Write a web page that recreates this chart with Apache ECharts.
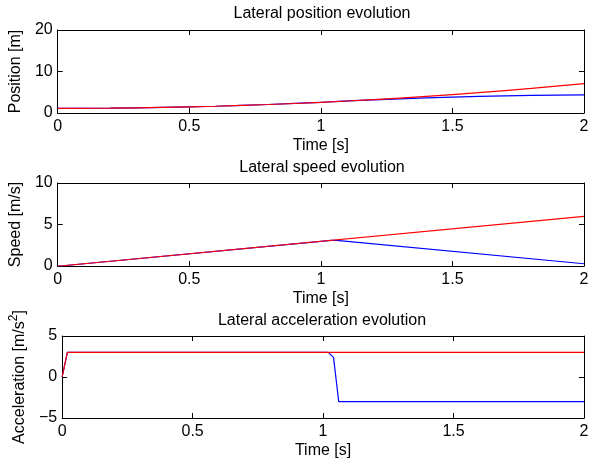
<!DOCTYPE html>
<html>
<head>
<meta charset="utf-8">
<script src="https://cdn.jsdelivr.net/npm/echarts@6/dist/echarts.min.js"></script>
<style>
  html, body { margin: 0; padding: 0; background: #fff; }
  #chart { width: 595px; height: 466px; }
</style>
</head>
<body>
<div id="chart"></div>
<script>
// ── data ──
const posTimeRed = [0, 0.2, 0.4, 0.6, 0.8, 1.0, 1.2, 1.4, 1.6, 1.8, 2.0];
const posRed = [1.1, 1.16, 1.34, 1.63, 2.05, 2.58, 3.24, 4.02, 4.92, 5.94, 7.08];
const posTimeBlue = [0, 0.2, 0.4, 0.6, 0.8, 1.0, 1.05, 1.2, 1.4, 1.6, 1.8, 2.0];
const posBlue = [1.1, 1.16, 1.34, 1.63, 2.05, 2.58, 2.73, 3.17, 3.64, 4.0, 4.24, 4.36];

const spdTimeRed = [0, 0.02, 2.0];
const spdRed = [0, 0.03, 5.97];
const spdTimeBlue = [0, 0.02, 1.04, 1.06, 2.0];
const spdBlue = [0, 0.03, 3.09, 3.08, 0.27];

const accTimeRed = [0, 0.02, 2.0];
const accRed = [0, 3, 3];
const accTimeBlue = [0, 0.02, 1.02, 1.04, 1.06, 2.0];
const accBlue = [0, 3, 3, 2.4, -3, -3];

const xTicks = { min: 0, max: 2, interval: 0.5 };
const titles = ["Lateral position evolution", "Lateral speed evolution", "Lateral acceleration evolution"];
const yNames = ["Position [m]", "Speed [m/s]", "Acceleration [m/s{sup|2}]"];
const yRanges = [[0, 20, 10], [0, 10, 5], [-5, 5, 5]];

const FONT = "Liberation Sans, Arial, Helvetica, sans-serif";
const BLUE = "#0000ff";
const RED = "#ff0000";

const grids = [
  { left: 57, width: 527, top: 30, height: 83 },
  { left: 57, width: 527, top: 183, height: 83 },
  { left: 57, width: 527, top: 336, height: 82 },
];
const titleTops = [1, 155, 308];

function pairs(xs, ys) {
  return xs.map((x, i) => [x, ys[i]]);
}

const lineAxis = { show: true, onZero: false, lineStyle: { color: "#000", width: 1 } };
const tickIn = { show: true, inside: true, length: 5, lineStyle: { color: "#000" } };

const xAxis = [];
const yAxis = [];
grids.forEach((g, i) => {
  xAxis.push({
    type: "value", gridIndex: i, position: "bottom",
    min: xTicks.min, max: xTicks.max, interval: xTicks.interval,
    axisLine: lineAxis, axisTick: tickIn, splitLine: { show: false },
    axisLabel: { color: "#000", fontSize: 16, fontFamily: FONT, margin: 6 },
    name: "Time [s]", nameLocation: "middle", nameGap: 25,
    nameTextStyle: { color: "#000", fontSize: 16, fontFamily: FONT },
  });
  xAxis.push({
    type: "value", gridIndex: i, position: "top",
    min: xTicks.min, max: xTicks.max, interval: xTicks.interval,
    axisLine: lineAxis, axisTick: tickIn, axisLabel: { show: false }, splitLine: { show: false },
  });
  const [lo, hi, step] = yRanges[i];
  yAxis.push({
    type: "value", gridIndex: i, position: "left",
    min: lo, max: hi, interval: step,
    axisLine: lineAxis, axisTick: tickIn, splitLine: { show: false },
    axisLabel: {
      color: "#000", fontSize: 16, fontFamily: FONT, margin: 5,
      formatter: (v) => String(v).replace("-", "\u2212"),
    },
    name: yNames[i], nameLocation: "middle", nameGap: 28,
    nameTextStyle: {
      color: "#000", fontSize: 16, fontFamily: FONT,
      rich: { sup: { fontSize: 12, fontFamily: FONT, color: "#000", verticalAlign: "top", padding: [0, 0, 12, 0] } },
    },
  });
  yAxis.push({
    type: "value", gridIndex: i, position: "right",
    min: lo, max: hi, interval: step,
    axisLine: lineAxis, axisTick: tickIn, axisLabel: { show: false }, splitLine: { show: false },
  });
});

function line(i, xs, ys, color, smooth) {
  return {
    type: "line", xAxisIndex: i * 2, yAxisIndex: i * 2,
    data: pairs(xs, ys), showSymbol: false, smooth: smooth,
    lineStyle: { color: color, width: 1.2 }, itemStyle: { color: color },
  };
}

const chart = echarts.init(document.getElementById("chart"));
chart.setOption({
  animation: false,
  backgroundColor: "#fff",
  title: titles.map((t, i) => ({
    text: t, left: 317, top: titleTops[i], textAlign: "center",
    textStyle: { color: "#000", fontSize: 16, fontWeight: "normal", fontFamily: FONT },
  })),
  grid: grids,
  xAxis: xAxis,
  yAxis: yAxis,
  series: [
    line(0, posTimeBlue, posBlue, BLUE, true),
    line(0, posTimeRed, posRed, RED, true),
    line(1, spdTimeBlue, spdBlue, BLUE, false),
    line(1, spdTimeRed, spdRed, RED, false),
    line(2, accTimeBlue, accBlue, BLUE, false),
    line(2, accTimeRed, accRed, RED, false),
  ],
});
</script>
</body>
</html>
